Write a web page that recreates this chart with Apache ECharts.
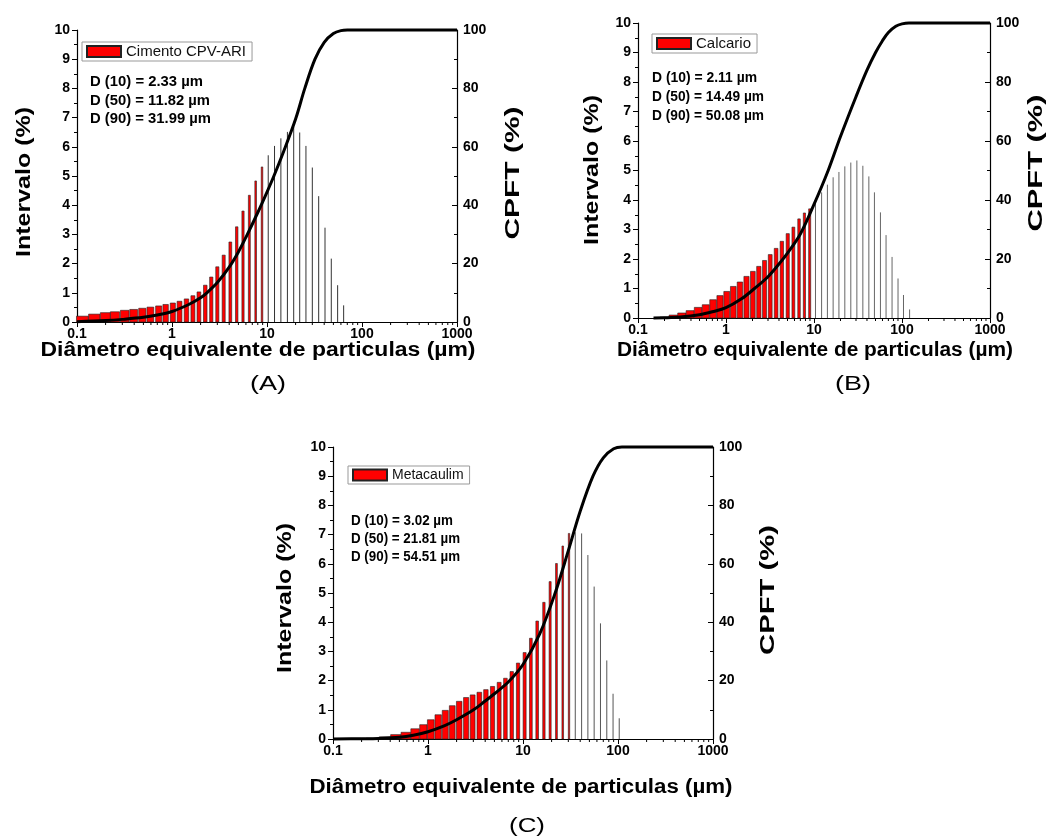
<!DOCTYPE html>
<html><head><meta charset="utf-8">
<script src="https://cdn.jsdelivr.net/npm/echarts/dist/echarts.min.js"></script>
<style>html,body{margin:0;padding:0;background:#fff}#c{width:1049px;height:837px}</style>
</head><body><div id="c"></div>
<script>
// ---------------- DATA ----------------
const xTickLabels = ['0.1', '1', '10', '100', '1000'];
const seriesNames = ['Cimento CPV-ARI', 'Calcario', 'Metacaulim'];

// (A) Cimento CPV-ARI
const sizesA = [0.114,0.152,0.199,0.251,0.318,0.395,0.487,0.592,0.724,0.857,1.02,1.20,1.42,1.66,1.92,2.24,2.59,3.0,3.5,4.11,4.8,5.59,6.52,7.6,8.86,10.3,12.0,14.0,16.4,19.1,22.1,25.7,30,35,40.8,47.5,55.4,64.1];
const intervalA = [0.2,0.27,0.32,0.35,0.4,0.43,0.47,0.51,0.55,0.6,0.65,0.71,0.79,0.9,1.03,1.26,1.54,1.89,2.29,2.74,3.26,3.8,4.34,4.83,5.31,5.71,6.03,6.29,6.51,6.69,6.49,6.03,5.29,4.31,3.23,2.17,1.26,0.57];
const cpftXA = [0.1,0.2,0.3,0.5,0.7,1,1.5,2,2.33,3,4,5,6,8,10,11.82,15,20,25,31.99,40,50,60,70,1000];
const cpftYA = [0.1,0.5,0.9,1.6,2.4,3.6,6,8.3,10,13.5,18.8,24,29,37.5,44.5,50,58.5,69.5,80,90,95.8,98.8,99.8,100,100];
const dLinesA = ['D (10) = 2.33 µm', 'D (50) = 11.82 µm', 'D (90) = 31.99 µm'];

// (B) Calcario
const sizesB = [0.200,0.253,0.315,0.391,0.482,0.589,0.713,0.855,1.02,1.21,1.44,1.71,2.02,2.36,2.74,3.18,3.71,4.31,5.03,5.83,6.76,7.78,8.93,10.4,12.2,14.2,16.5,19.2,22.4,26.2,30.7,35.9,42.0,48.6,56.9,65.9,77.1,90.1,104,122];
const intervalB = [0.03,0.1,0.17,0.25,0.36,0.45,0.62,0.76,0.9,1.07,1.22,1.41,1.58,1.75,1.95,2.15,2.36,2.6,2.86,3.08,3.36,3.56,3.7,3.9,4.26,4.52,4.77,4.95,5.14,5.27,5.34,5.16,4.8,4.26,3.58,2.81,2.07,1.34,0.78,0.29];
const cpftXB = [0.15,0.2,0.3,0.5,0.7,1,1.5,2.11,3,4,5,7,10,14.49,20,30,40,50.08,60,70,85,100,120,1000];
const cpftYB = [0,0.05,0.3,1.1,2.1,3.5,6.5,10,14,18.3,22,28.5,38.5,50,61.5,75,84,90,94,96.8,98.9,99.7,100,100];
const dLinesB = ['D (10) = 2.11 µm', 'D (50) = 14.49 µm', 'D (90) = 50.08 µm'];

// (C) Metacaulim
const sizesC = [0.129,0.185,0.262,0.352,0.459,0.584,0.731,0.894,1.07,1.28,1.52,1.80,2.13,2.52,2.95,3.47,4.07,4.78,5.61,6.53,7.61,8.87,10.4,12.1,14.1,16.6,19.3,22.5,26.2,30.5,35.5,41.4,48.2,56.1,65.4,76.2,88.7,103];
const intervalC = [0.01,0.02,0.03,0.07,0.15,0.23,0.35,0.49,0.66,0.83,0.98,1.14,1.29,1.42,1.51,1.6,1.69,1.8,1.94,2.08,2.31,2.6,2.96,3.45,4.04,4.68,5.39,6.01,6.61,7.04,7.08,7.04,6.3,5.22,3.96,2.69,1.55,0.71];
const cpftXC = [0.1,0.2,0.3,0.5,0.7,1,1.5,2,3.02,4,5,7,10,15,21.81,30,40,54.51,70,90,110,1000];
const cpftYC = [0,0.1,0.2,0.6,1.3,2.5,4.6,6.6,10,13,15.5,19.5,25.5,36,50,64.5,78,90,96.3,99.4,100,100];
const dLinesC = ['D (10) = 3.02 µm', 'D (50) = 21.81 µm', 'D (90) = 54.51 µm'];

const panelLabels = ['(A)', '(B)', '(C)'];
const xTitle = 'Diâmetro equivalente de particulas (µm)';
const yTitleLeft = 'Intervalo (%)';
const yTitleRight = 'CPFT (%)';

// ---------------- LAYOUT / STYLE ----------------
const FONT = '"Liberation Sans", Arial, Helvetica, sans-serif';
const panels = [
  { name: seriesNames[0], sizes: sizesA, vals: intervalA, cx: cpftXA, cy: cpftYA, d: dLinesA, label: panelLabels[0],
    grid: {left: 77, top: 30, width: 380, height: 292},
    legend: {left: 82, top: 42, fs: 15},
    dText: {x: 90, y: [82, 101, 119], len: [113, 120, 121]},
    xT: {x: 258, y: 350, len: 435}, yL: {x: 24, y: 182, len: 150}, yR: {x: 513, y: 173, len: 133},
    pl: {x: 268, y: 384},
    bar: {x0: 0.11, x1: 8, f1: 0.25, p: 1.6, red: 9.5, gray: '#333'} },
  { name: seriesNames[1], sizes: sizesB, vals: intervalB, cx: cpftXB, cy: cpftYB, d: dLinesB, label: panelLabels[1],
    grid: {left: 638, top: 23, width: 352, height: 295},
    legend: {left: 652, top: 34, fs: 15},
    dText: {x: 652, y: [78, 97, 116], len: [105, 112, 112]},
    xT: {x: 815, y: 350, len: 396}, yL: {x: 592, y: 170, len: 150}, yR: {x: 1036, y: 163, len: 137},
    pl: {x: 853, y: 384},
    bar: {x0: 0.2, x1: 9.5, f1: 0.35, p: 2, red: 9.6, gray: '#666'} },
  { name: seriesNames[2], sizes: sizesC, vals: intervalC, cx: cpftXC, cy: cpftYC, d: dLinesC, label: panelLabels[2],
    grid: {left: 333, top: 447, width: 380, height: 292},
    legend: {left: 348, top: 466, fs: 14},
    dText: {x: 351, y: [521, 539, 557], len: [102, 109, 109]},
    xT: {x: 521, y: 787, len: 423}, yL: {x: 285, y: 598, len: 150}, yR: {x: 768, y: 590, len: 130},
    pl: {x: 527, y: 826},
    bar: {x0: 0.5, x1: 30, f1: 0.22, p: 1.3, red: 32, gray: '#555'} }
];

const mctx = document.createElement('canvas').getContext('2d');
function txt(text, x, y, size, bold, len, rot, align) {
  const f = (bold ? 'bold ' : '') + size + 'px ' + FONT;
  mctx.font = f;
  const w = mctx.measureText(text).width;
  const a = align || 'center';
  return { type: 'text', x: x, y: y, rotation: rot || 0, scaleX: len ? len / w : 1, z: 100,
    style: { text: text, font: f, fill: '#000', align: a, textAlign: a, verticalAlign: 'middle', textVerticalAlign: 'middle' } };
}

function barRenderer(p) {
  const xs = p.sizes, b = p.bar;
  const l0 = Math.log10(b.x0), l1 = Math.log10(b.x1);
  return function (params, api) {
    const i = params.dataIndex;
    const x = api.value(0), y = api.value(1);
    const lo = i > 0 ? Math.sqrt(xs[i - 1] * x) : x / Math.sqrt(xs[1] / xs[0]);
    const hi = i < xs.length - 1 ? Math.sqrt(xs[i + 1] * x) : x * Math.sqrt(xs[i] / xs[i - 1]);
    const pl = api.coord([lo, 0])[0], pr = api.coord([hi, 0])[0];
    const top = api.coord([x, y]);
    const base = api.coord([x, 0]);
    if (x > b.red) {
      return { type: 'line', shape: { x1: top[0], y1: base[1], x2: top[0], y2: top[1] },
        style: { stroke: b.gray, lineWidth: 1 } };
    }
    let t = (Math.log10(x) - l0) / (l1 - l0);
    t = Math.max(0, Math.min(1, t));
    const frac = 1 - (1 - b.f1) * Math.pow(t, b.p);
    const w = Math.max(1, (pr - pl) * frac);
    return { type: 'rect', shape: { x: top[0] - w / 2, y: top[1], width: w, height: base[1] - top[1] },
      style: { fill: '#ff0000', stroke: '#222', lineWidth: 0.6 } };
  };
}

// minor log ticks (axis decoration) at 2..9 x each decade of the axis range
const minorVals = [];
for (let e = -1; e < 3; e++) for (let k = 2; k <= 9; k++) minorVals.push(+(k * Math.pow(10, e)).toPrecision(3));

const grids = [], xAxes = [], yAxes = [], series = [], legends = [], graphics = [];
const axisLabelStyle = { color: '#000', fontWeight: 'bold', fontSize: 14, fontFamily: FONT };
panels.forEach((p, gi) => {
  grids.push(Object.assign({}, p.grid));
  xAxes.push({ type: 'log', logBase: 10, min: 0.1, max: 1000, gridIndex: gi,
    axisLine: { lineStyle: { color: '#000', width: 1.2 } },
    axisTick: { inside: false, length: 5, lineStyle: { color: '#000', width: 1 } },
    splitLine: { show: false },
    axisLabel: Object.assign({ margin: 5, formatter: v => xTickLabels[Math.round(Math.log10(v)) + 1] }, axisLabelStyle) });
  yAxes.push({ type: 'value', gridIndex: gi, position: 'left', min: 0, max: 10, interval: 1,
    axisLine: { show: true, lineStyle: { color: '#000', width: 1.2 } },
    axisTick: { show: true, inside: false, length: 5, lineStyle: { color: '#000' } },
    minorTick: { show: true, splitNumber: 2, length: 3, lineStyle: { color: '#000' } },
    splitLine: { show: false },
    axisLabel: Object.assign({ margin: 7 }, axisLabelStyle) });
  yAxes.push({ type: 'value', gridIndex: gi, position: 'right', min: 0, max: 100, interval: 20,
    axisLine: { show: true, lineStyle: { color: '#000', width: 1.2 } },
    axisTick: { show: true, inside: true, length: 5, lineStyle: { color: '#000' } },
    minorTick: { show: true, splitNumber: 2, length: 3, lineStyle: { color: '#000' } },
    splitLine: { show: false },
    axisLabel: Object.assign({ margin: 6 }, axisLabelStyle) });

  series.push({ type: 'custom', name: p.name, xAxisIndex: gi, yAxisIndex: gi * 2, z: 2,
    itemStyle: { color: '#ff0000', borderColor: '#222', borderWidth: 0.6 },
    renderItem: barRenderer(p), encode: { x: 0, y: 1 },
    data: p.sizes.map((s, i) => [s, p.vals[i]]) });
  series.push({ type: 'line', xAxisIndex: gi, yAxisIndex: gi * 2 + 1, z: 5, clip: false,
    smooth: 0.35, showSymbol: false, symbol: 'none', silent: true,
    lineStyle: { color: '#000', width: 3 },
    data: p.cx.map((s, i) => [s, p.cy[i]]) });
  series.push({ type: 'custom', xAxisIndex: gi, yAxisIndex: gi * 2, z: 3, clip: false, silent: true,
    renderItem: function (params, api) {
      const c = api.coord([api.value(0), 0]);
      return { type: 'line', shape: { x1: c[0], y1: c[1], x2: c[0], y2: c[1] + 3 },
        style: { stroke: '#000', lineWidth: 1 } };
    },
    data: minorVals.map(v => [v, 0]) });

  legends.push({ data: [p.name], left: p.legend.left, top: p.legend.top, orient: 'vertical',
    selectedMode: false, icon: 'rect', itemWidth: 34, itemHeight: 11,
    padding: [2, 6, 2, 4], borderColor: '#999', borderWidth: 1, borderRadius: 0,
    textStyle: { color: '#111', fontSize: p.legend.fs, fontFamily: FONT } });

  p.d.forEach((line, k) => graphics.push(txt(line, p.dText.x, p.dText.y[k], 14, true, p.dText.len[k], 0, 'left')));
  graphics.push(txt(xTitle, p.xT.x, p.xT.y, 20, true, p.xT.len));
  graphics.push(txt(yTitleLeft, p.yL.x, p.yL.y, 21, true, p.yL.len, Math.PI / 2));
  graphics.push(txt(yTitleRight, p.yR.x, p.yR.y, 21, true, p.yR.len, Math.PI / 2));
  graphics.push(txt(p.label, p.pl.x, p.pl.y, 21, false, 36));
});

const chart = echarts.init(document.getElementById('c'), null, { renderer: 'canvas' });
chart.setOption({
  backgroundColor: '#fff',
  animation: false,
  grid: grids, xAxis: xAxes, yAxis: yAxes, series: series, legend: legends,
  graphic: { elements: graphics }
});
</script></body></html>
